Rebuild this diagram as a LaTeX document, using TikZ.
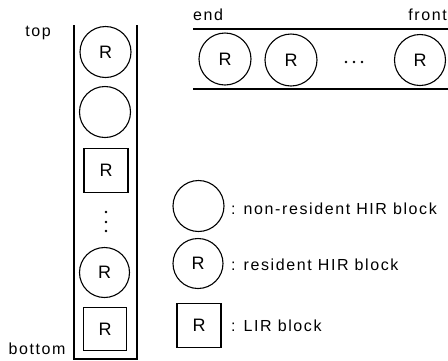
\documentclass[tikz,border=0pt]{standalone}
\usepackage{fontspec}
\setmainfont{Liberation Sans}
\newfontfamily\lblfont{Liberation Sans}[LetterSpace=10]
\begin{document}
\begin{tikzpicture}[x=1pt,y=-1pt,
  blk/.style={draw,line width=1.1pt,inner sep=0pt,font=\fontsize{18}{18}\selectfont},
  hir/.style={blk,circle,minimum size=51pt},
  lir/.style={blk,rectangle,minimum size=44pt},
  wall/.style={line width=1.3pt},
  lbl/.style={inner sep=0pt,font=\lblfont\fontsize{16}{16}\selectfont},
  dot/.style={circle,fill,inner sep=0pt,minimum size=2.6pt}]
\useasboundingbox (0,0) rectangle (448,360);
% stack
\coordinate (sTL) at (74,25);
\coordinate (sBL) at (74,359);
\coordinate (sTR) at (137,25);
\coordinate (sBR) at (137,359);
\draw[wall] (sTL) -- (sBL) -- (sBR) -- (sTR);
\node[hir] (s1) at (105.5,52) {R};
\node[hir] (s2) at (105,112) {};
\node[lir] (s3) at (106,170.5) {R};
\node[dot] (v1) at (106,212) {};
\node[dot] (v2) at (106,222) {};
\node[dot] (v3) at (106,231) {};
\node[hir,minimum size=50pt] (s4) at (104.5,272.5) {R};
\node[lir,minimum size=43pt] (s5) at (105,329) {R};
\node[lbl] (top) at (38,33) {top};
\node[lbl] (bottom) at (37,349) {bottom};
% queue
\coordinate (qT1) at (193,29);
\coordinate (qT2) at (448,29);
\coordinate (qB1) at (193,89);
\coordinate (qB2) at (448,89);
\draw[wall] (qT1) -- (qT2);
\draw[wall] (qB1) -- (qB2);
\node[hir,minimum size=52pt] (q1) at (225,59) {R};
\node[hir,minimum size=52pt] (q2) at (291,60) {R};
\node[dot] (h1) at (346,62) {};
\node[dot] (h2) at (354,62) {};
\node[dot] (h3) at (362,62) {};
\node[hir] (q3) at (420,60) {R};
\node[lbl,anchor=west] (end) at (193,15) {end};
\node[lbl,anchor=east] (front) at (447,15) {front};
% legend
\node[hir] (l1) at (198.5,206) {};
\node[hir,minimum size=50pt] (l2) at (198,263.5) {R};
\node[lir] (l3) at (199,325.5) {R};
\node[lbl,anchor=west] (t1) at (231,209) {: non-resident HIR block};
\node[lbl,anchor=west] (t2) at (231,265) {: resident HIR block};
\node[lbl,anchor=west] (t3) at (231,326) {: LIR block};
\end{tikzpicture}
\end{document}
